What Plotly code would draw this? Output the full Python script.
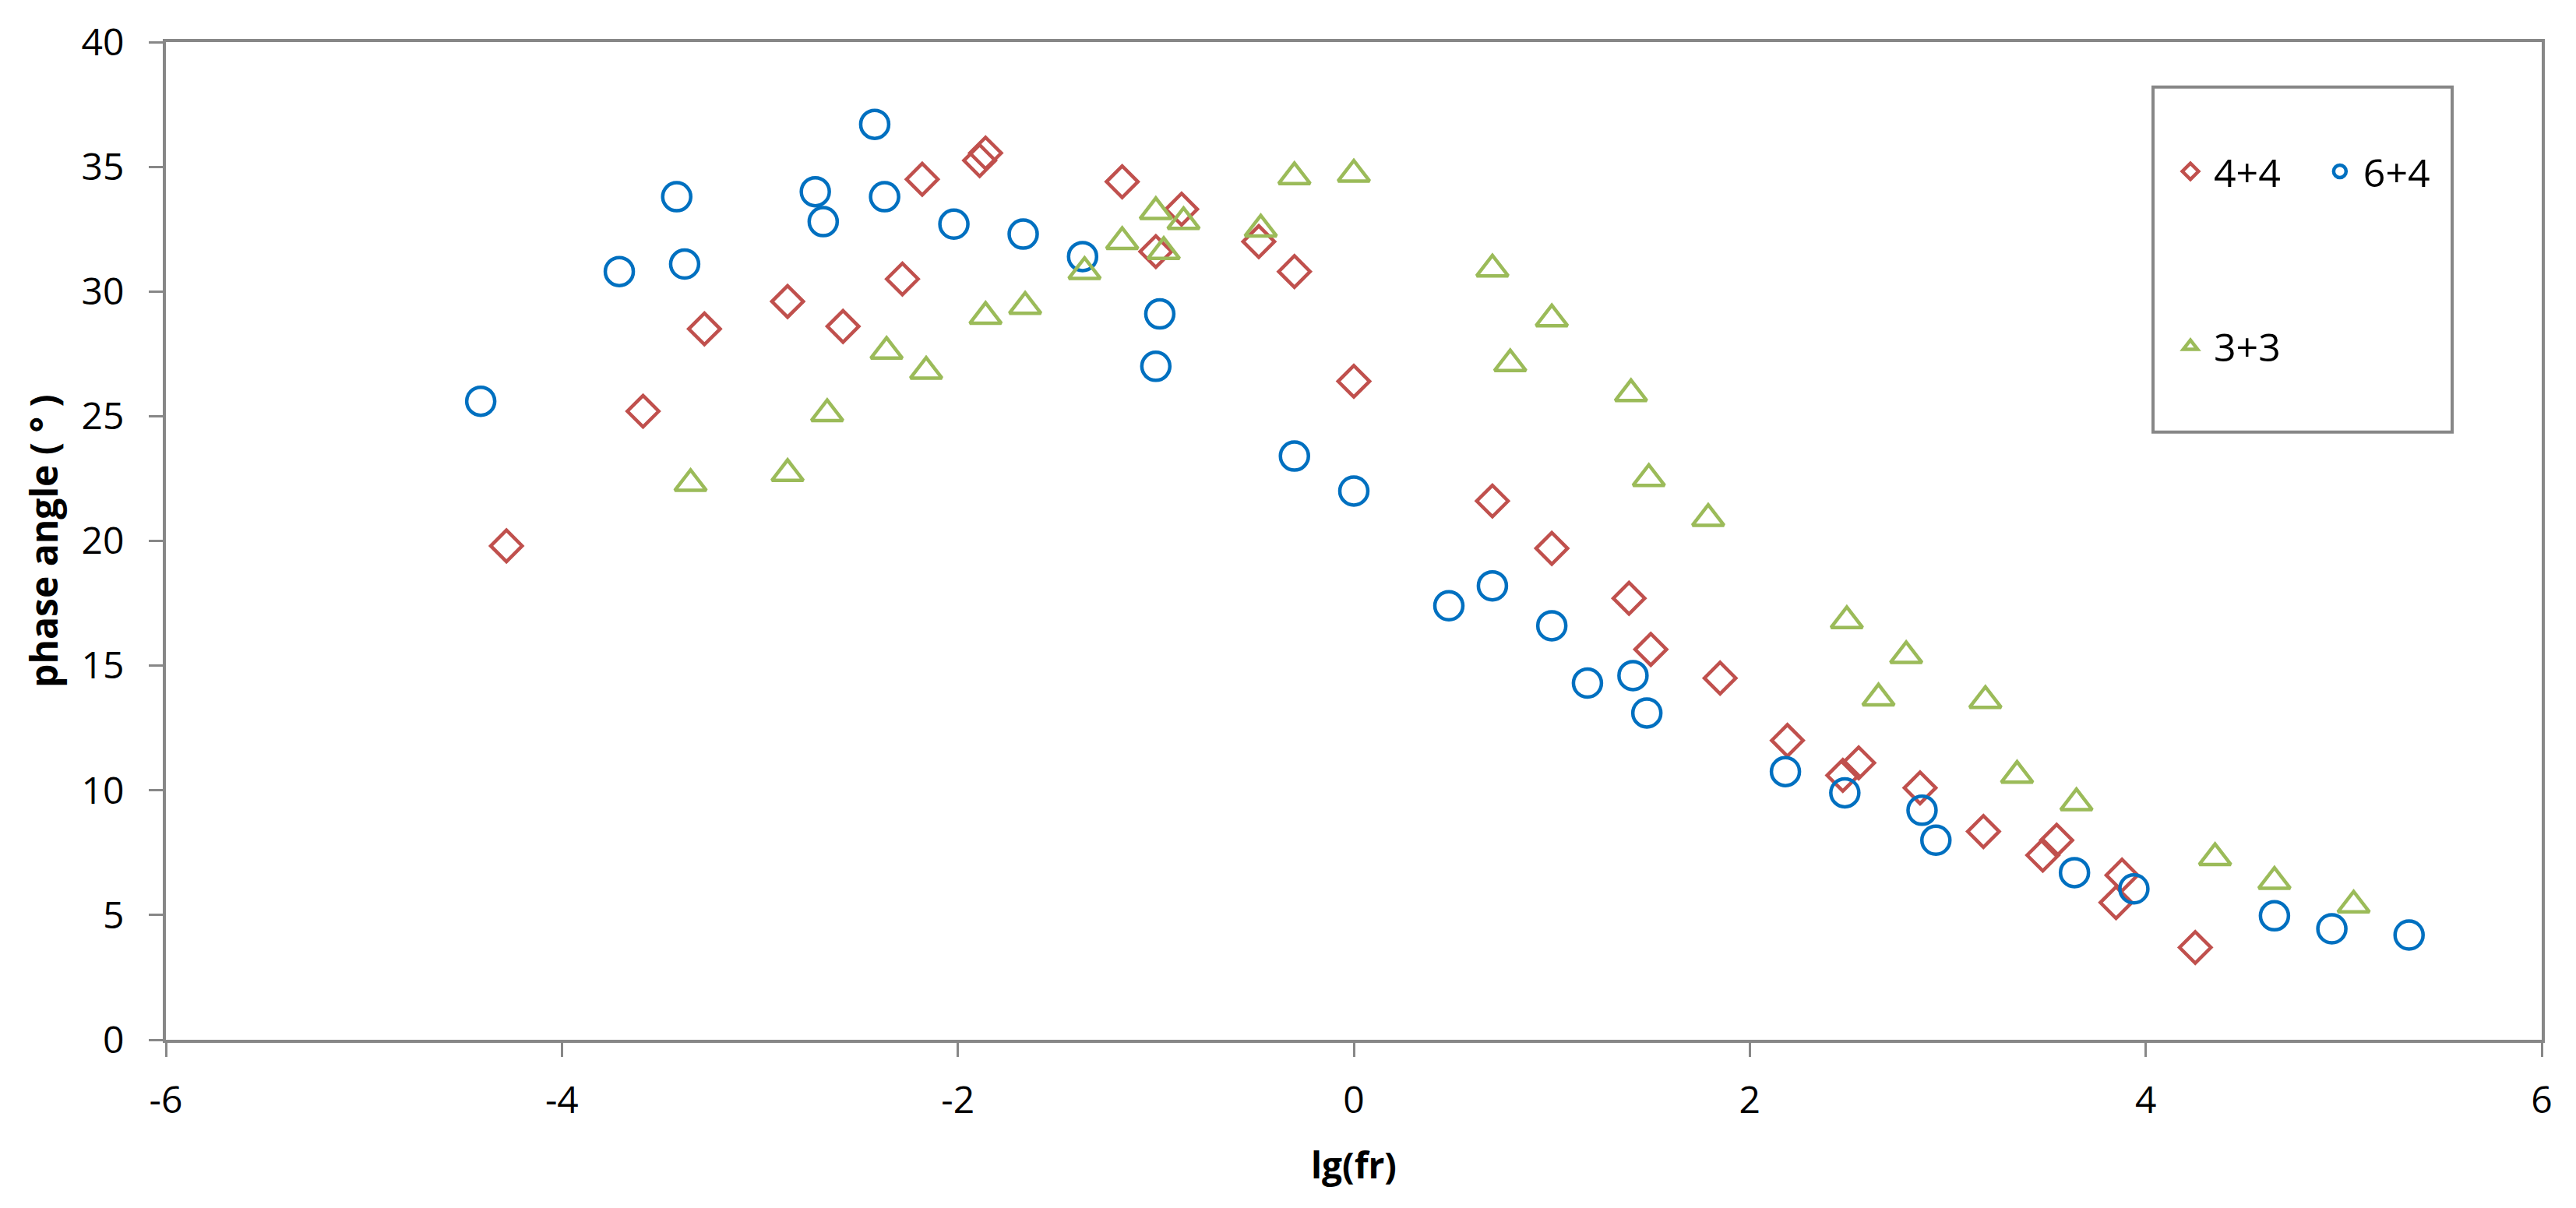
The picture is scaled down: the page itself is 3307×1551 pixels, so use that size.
import plotly.graph_objects as go

# lg(fr) / phase angle
x_44 = [-4.28, -3.59, -3.28, -2.86, -2.58, -2.28, -2.18, -1.89, -1.86, -1.17,
        -1.00, -0.87, -0.48, -0.30, 0.00, 0.70, 1.00, 1.39, 1.50, 1.85,
        2.19, 2.47, 2.55, 2.86, 3.18, 3.48, 3.55, 3.88, 3.85, 4.25]
y_44 = [19.8, 25.2, 28.5, 29.6, 28.6, 30.5, 34.5, 35.25, 35.55, 34.4,
        31.6, 33.3, 32.0, 30.8, 26.4, 21.6, 19.7, 17.7, 15.65, 14.5,
        12.0, 10.6, 11.1, 10.1, 8.35, 7.4, 8.0, 6.6, 5.5, 3.7]

x_64 = [-4.41, -3.71, -3.42, -3.38, -2.72, -2.68, -2.42, -2.37, -2.02, -1.67,
        -1.37, -0.98, -1.00, -0.30, 0.00, 0.48, 0.70, 1.00, 1.18, 1.41,
        1.48, 2.18, 2.48, 2.87, 2.94, 3.64, 3.94, 4.65, 4.94, 5.33]
y_64 = [25.6, 30.8, 33.8, 31.1, 34.0, 32.8, 36.7, 33.8, 32.7, 32.3,
        31.4, 29.1, 27.0, 23.4, 22.0, 17.4, 18.2, 16.6, 14.3, 14.6,
        13.1, 10.75, 9.9, 9.2, 8.0, 6.7, 6.05, 4.97, 4.45, 4.2]

x_33 = [-3.35, -2.86, -2.66, -2.36, -2.16, -1.86, -1.66, -1.36, -1.17, -1.00,
        -0.96, -0.86, -0.47, -0.30, 0.00, 0.70, 0.79, 1.00, 1.40, 1.49,
        1.79, 2.49, 2.65, 2.79, 3.19, 3.35, 3.65, 4.35, 4.65, 5.05]
y_33 = [22.3, 22.7, 25.1, 27.6, 26.8, 29.0, 29.4, 30.8, 32.0, 33.2,
        31.6, 32.8, 32.5, 34.6, 34.7, 30.9, 27.1, 28.9, 25.9, 22.5,
        20.9, 16.8, 13.7, 15.4, 13.6, 10.6, 9.5, 7.3, 6.35, 5.4]

x_ticks = [-6, -4, -2, 0, 2, 4, 6]
x_tick_labels = ["-6", "-4", "-2", "0", "2", "4", "6"]

fuente = "Open Sans, Roboto, sans-serif"
gris = "#878787"

fig = go.Figure()

fig.add_trace(go.Scatter(
    x=x_44, y=y_44, mode="markers", name="4+4", legend="legend",
    marker=dict(symbol="diamond-open", size=31, color="#C0504D",
                line=dict(width=4.5, color="#C0504D"))
))
fig.add_trace(go.Scatter(
    x=x_64, y=y_64, mode="markers", name="6+4", legend="legend2",
    marker=dict(symbol="circle-open", size=36, color="#0070C0",
                line=dict(width=4.5, color="#0070C0"))
))
fig.add_trace(go.Scatter(
    x=x_33, y=y_33, mode="markers", name="3+3", legend="legend3",
    marker=dict(symbol="triangle-up-open", size=35, color="#9BBB59",
                line=dict(width=4.5, color="#9BBB59"))
))

leyenda = dict(font=dict(family=fuente, size=50, color="#000000"),
               bgcolor="rgba(0,0,0,0)", borderwidth=0, itemwidth=50,
               xanchor="left", yanchor="middle")

# la página tiene 8px de margen en el body, se compensa aquí
fig.update_layout(
    width=3307, height=1551,
    margin=dict(l=205, r=52, t=38, b=224),
    paper_bgcolor="white", plot_bgcolor="white",
    font=dict(family=fuente, size=48, color="#000000"),
    showlegend=True,
    legend=dict(leyenda, x=0.8423, y=0.8704),
    legend2=dict(leyenda, x=0.9052, y=0.8704),
    legend3=dict(leyenda, x=0.8423, y=0.6951),
    xaxis=dict(
        range=[-6, 6], tickvals=x_ticks, ticktext=x_tick_labels,
        showgrid=False, zeroline=False,
        showline=True, linecolor=gris, linewidth=4, mirror=True,
        ticks="outside", ticklen=18, tickwidth=3, tickcolor=gris,
        tickfont=dict(family=fuente, size=48, color="#000000"),
        ticklabelstandoff=14,
        title=dict(text="<b>lg(fr)</b>", standoff=40,
                   font=dict(family=fuente, size=46, color="#000000")),
    ),
    yaxis=dict(
        range=[0, 40], dtick=5, tick0=0,
        showgrid=False, zeroline=False,
        showline=True, linecolor=gris, linewidth=4, mirror=True,
        ticks="outside", ticklen=18, tickwidth=3, tickcolor=gris,
        tickfont=dict(family=fuente, size=48, color="#000000"),
        ticklabelstandoff=22,
        title=dict(text="<b>phase angle ( ° )</b>", standoff=16,
                   font=dict(family=fuente, size=48, color="#000000")),
    ),
    shapes=[dict(type="rect", xref="paper", yref="paper",
                 x0=0.8364, x1=0.9623, y0=0.609, y1=0.955,
                 line=dict(color=gris, width=4), fillcolor="rgba(0,0,0,0)")],
)

fig.write_html("out.html")
